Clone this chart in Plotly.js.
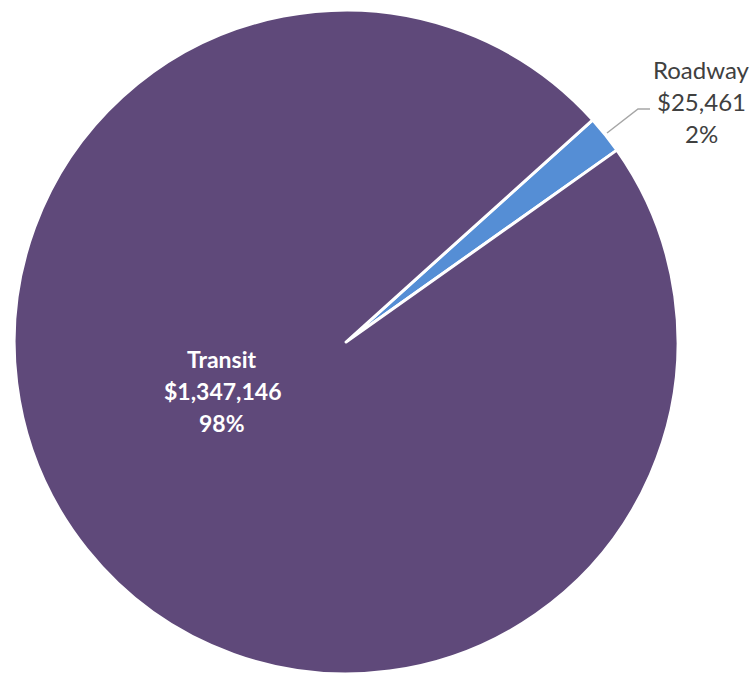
<!DOCTYPE html>
<html>
<head>
<meta charset="utf-8">
<script src="https://cdn.plot.ly/plotly-3.0.1.min.js"></script>
<style>html,body{margin:0;padding:0;background:#fff;}#chart{width:751px;height:675px;}</style>
</head>
<body>
<div id="chart"></div>
<script>
// Data
const categories = ["Roadway", "Transit"];
const values = [25461, 1347146];
const colors = ["#558ED5", "#5F497A"];

const total = values.reduce((a, b) => a + b, 0);
const fmtMoney = v => "$" + v.toLocaleString("en-US");
const fmtPct = v => Math.round(v / total * 100) + "%";

const trace = {
  type: "pie",
  labels: categories,
  values: values,
  sort: false,
  direction: "clockwise",
  rotation: 48,
  marker: { colors: colors, line: { color: "#ffffff", width: 3 } },
  textinfo: "none",
  hoverinfo: "label+value+percent",
  domain: { x: [0.0186, 0.903], y: [0.0015, 0.985] },
  showlegend: false
};

// label placement (paper coords) per category
const labelPos = {
  Roadway: { x: 701 / 751, y: 1 - 101 / 675, color: "#404040", bold: false, size: 24 },
  Transit: { x: 222 / 751, y: 1 - 391 / 675, color: "#ffffff", bold: true, size: 23 }
};
const lineGap = 32 / 675;
const annotations = [];
categories.forEach((c, i) => {
  const p = labelPos[c];
  const lines = [c, fmtMoney(values[i]), fmtPct(values[i])];
  lines.forEach((t, k) => {
    annotations.push({
      xref: "paper", yref: "paper",
      x: p.x, y: p.y + (1 - k) * lineGap,
      xanchor: "center", yanchor: "middle",
      text: p.bold ? "<b>" + t + "</b>" : t,
      showarrow: false,
      font: { family: "Lato, 'Noto Sans', sans-serif", size: p.size, color: p.color }
    });
  });
});

const layout = {
  width: 751, height: 675,
  margin: { l: 0, r: 0, t: 0, b: 0 },
  paper_bgcolor: "#ffffff",
  annotations: annotations,
  shapes: [{
    type: "path",
    xref: "paper", yref: "paper",
    path: "M " + (607/751) + "," + (1-133/675) + " L " + (638/751) + "," + (1-109/675) + " L " + (650/751) + "," + (1-109/675),
    line: { color: "#A6A6A6", width: 1.5 }
  }]
};

Plotly.newPlot("chart", [trace], layout, { staticPlot: true, displayModeBar: false });
</script>
</body>
</html>
